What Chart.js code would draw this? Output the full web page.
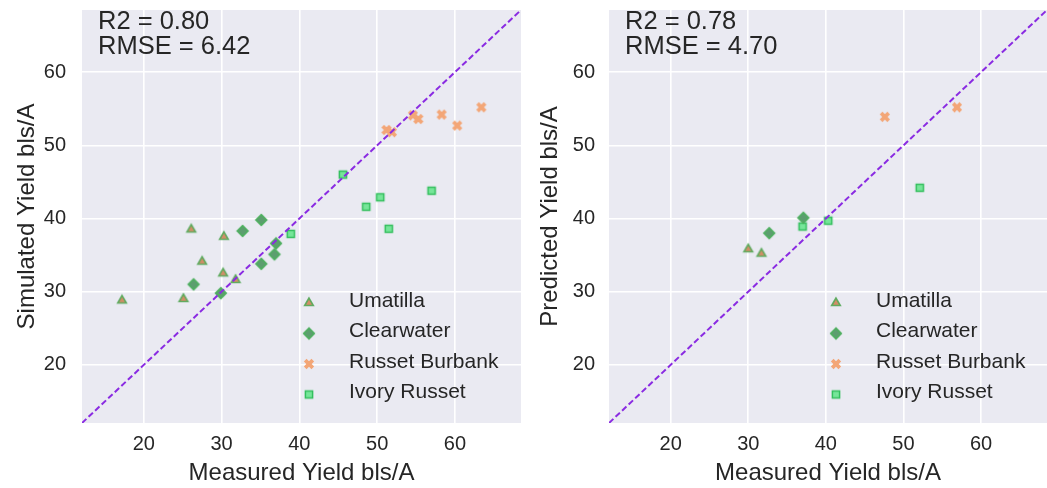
<!DOCTYPE html>
<html>
<head>
<meta charset="utf-8">
<script src="https://cdn.jsdelivr.net/npm/chart.js@4.4.1/dist/chart.umd.min.js"></script>
<style>
  html, body { margin: 0; padding: 0; background: #ffffff; }
  body { width: 1047px; height: 488px; position: relative; overflow: hidden; }
  .wrap { position: absolute; top: 0; height: 488px; }
  #w1 { left: 0; width: 530px; }
  #w2 { left: 536px; width: 511px; }
</style>
</head>
<body>
<div class="wrap" id="w1"><canvas id="c1"></canvas></div>
<div class="wrap" id="w2"><canvas id="c2"></canvas></div>
<script>
// ---------------- DATA ----------------
const seriesNames = ['Umatilla', 'Clearwater', 'Russet Burbank', 'Ivory Russet'];
const tickValues = [20, 30, 40, 50, 60];
const axisRange = [12.05, 68.5];

// Left panel: measured vs simulated
const simUmatillaX = [17.2, 25.1, 26.1, 27.5, 30.2, 30.3, 31.8];
const simUmatillaY = [28.8, 29.0, 38.5, 34.1, 32.5, 37.5, 31.6];
const simClearwaterX = [26.4, 29.9, 32.7, 35.1, 35.1, 36.8, 37.0];
const simClearwaterY = [31.0, 29.8, 38.3, 39.8, 33.8, 35.1, 36.6];
const simBurbankX = [51.2, 51.9, 54.6, 55.3, 58.3, 60.3, 63.4];
const simBurbankY = [52.1, 51.8, 54.1, 53.6, 54.2, 52.7, 55.2];
const simIvoryX = [38.9, 45.6, 48.6, 50.4, 51.5, 57.0];
const simIvoryY = [37.9, 46.0, 41.6, 42.9, 38.6, 43.8];

// Right panel: measured vs predicted
const predUmatillaX = [30.0, 31.7];
const predUmatillaY = [35.8, 35.2];
const predClearwaterX = [32.7, 37.1];
const predClearwaterY = [38.0, 40.1];
const predBurbankX = [47.6, 56.9];
const predBurbankY = [53.9, 55.2];
const predIvoryX = [37.0, 40.3, 52.1];
const predIvoryY = [38.9, 39.7, 44.2];

const statsLeft = ['R2 = 0.80', 'RMSE = 6.42'];
const statsRight = ['R2 = 0.78', 'RMSE = 4.70'];
const xTitle = 'Measured Yield bls/A';
const yTitleLeft = 'Simulated Yield bls/A';
const yTitleRight = 'Predicted Yield bls/A';

// ---------------- STYLE ----------------
const FONT = "'Liberation Sans', Arial, sans-serif";
const TEXT = '#262626';
const BG = '#eaeaf2';

function makeMarker(kind) {
  const c = document.createElement('canvas');
  c.width = 16; c.height = 16;
  const g = c.getContext('2d');
  const cx = 8, cy = 8;
  g.lineJoin = 'miter';
  if (kind === 'triangle') {
    const r = 5.0;
    g.beginPath();
    g.moveTo(cx, cy - r);
    g.lineTo(cx - r * 0.866, cy + r * 0.5);
    g.lineTo(cx + r * 0.866, cy + r * 0.5);
    g.closePath();
    g.fillStyle = 'rgba(210,136,96,0.95)';
    g.fill();
    g.lineWidth = 1.6;
    g.strokeStyle = 'rgba(84,168,88,0.9)';
    g.stroke();
  } else if (kind === 'diamond') {
    const r = 5.4;
    g.beginPath();
    g.moveTo(cx, cy - r); g.lineTo(cx + r, cy); g.lineTo(cx, cy + r); g.lineTo(cx - r, cy);
    g.closePath();
    g.fillStyle = '#5c9e6f';
    g.fill();
    g.lineWidth = 1.5;
    g.strokeStyle = '#4caf5d';
    g.stroke();
  } else if (kind === 'square') {
    const h = 3.6;
    g.beginPath();
    g.rect(cx - h, cy - h, 2 * h, 2 * h);
    g.fillStyle = '#76e699';
    g.fill();
    g.lineWidth = 1.5;
    g.strokeStyle = '#34bf5e';
    g.stroke();
  } else {
    const a = 3.8;
    g.strokeStyle = '#f3a677';
    g.lineWidth = 3.8;
    g.lineCap = 'butt';
    g.beginPath();
    g.moveTo(cx - a, cy - a); g.lineTo(cx + a, cy + a);
    g.moveTo(cx + a, cy - a); g.lineTo(cx - a, cy + a);
    g.stroke();
  }
  return c;
}
const markers = [makeMarker('triangle'), makeMarker('diamond'), makeMarker('x'), makeMarker('square')];

function pts(xs, ys) { return xs.map((x, i) => ({ x: x, y: ys[i] })); }

const bgPlugin = {
  id: 'bg',
  beforeDraw(chart) {
    const { ctx, chartArea: a } = chart;
    ctx.save();
    ctx.fillStyle = BG;
    ctx.fillRect(a.left, a.top, a.right - a.left, a.bottom - a.top);
    ctx.restore();
  }
};

const overlayPlugin = {
  id: 'overlay',
  afterDraw(chart, args, opts) {
    const { ctx, chartArea: a } = chart;
    ctx.save();
    ctx.fillStyle = TEXT;
    ctx.font = '25.5px ' + FONT;
    ctx.textAlign = 'left';
    ctx.textBaseline = 'alphabetic';
    opts.stats.forEach((s, i) => ctx.fillText(s, a.left + 16, a.top + 18.5 + i * 25));
    ctx.font = '21px ' + FONT;
    ctx.textBaseline = 'middle';
    seriesNames.forEach((name, i) => {
      const y = a.top + 291 + i * 30.5;
      const m = markers[i];
      ctx.drawImage(m, a.left + 227 - m.width / 2, y + 2 - m.height / 2);
      ctx.fillText(name, a.left + 267, y);
    });
    ctx.restore();
  }
};

function makeChart(id, sets, yTitle, stats, yWidth, yTickPad, yTitlePad, padRight) {
  const datasets = [{
    type: 'line',
    data: [{ x: axisRange[0], y: axisRange[0] }, { x: axisRange[1], y: axisRange[1] }],
    borderColor: '#8a2be2',
    borderWidth: 2,
    borderDash: [6, 3],
    pointRadius: 0,
    fill: false,
    order: 0
  }];
  sets.forEach((s, i) => {
    datasets.push({
      type: 'scatter',
      label: seriesNames[i],
      data: pts(s[0], s[1]),
      pointStyle: markers[i],
      pointRadius: 5,
      order: 1
    });
  });
  return new Chart(document.getElementById(id), {
    data: { datasets: datasets },
    options: {
      responsive: true,
      maintainAspectRatio: false,
      animation: false,
      events: [],
      layout: { autoPadding: false, padding: { top: 10, right: padRight, left: 0, bottom: 0 } },
      plugins: { legend: { display: false }, tooltip: { enabled: false }, overlay: { stats: stats } },
      scales: {
        x: {
          type: 'linear',
          min: axisRange[0], max: axisRange[1],
          afterBuildTicks(scale) { scale.ticks = tickValues.map(v => ({ value: v })); },
          afterFit(scale) { scale.height = 65; scale.paddingLeft = 0; scale.paddingRight = 0; },
          grid: { color: '#ffffff', lineWidth: 1.6, drawTicks: false },
          border: { display: false },
          ticks: { color: TEXT, font: { family: FONT, size: 20 }, padding: 9, maxRotation: 0 },
          title: { display: true, text: xTitle, color: TEXT, font: { family: FONT, size: 24 }, padding: { top: 0, bottom: 0 } }
        },
        y: {
          type: 'linear',
          min: axisRange[0], max: axisRange[1],
          afterBuildTicks(scale) { scale.ticks = tickValues.map(v => ({ value: v })); },
          afterFit(scale) { scale.width = yWidth; scale.paddingTop = 0; scale.paddingBottom = 0; },
          grid: { color: '#ffffff', lineWidth: 1.6, drawTicks: false },
          border: { display: false },
          ticks: { color: TEXT, font: { family: FONT, size: 20 }, padding: yTickPad },
          title: { display: true, text: yTitle, color: TEXT, font: { family: FONT, size: 24 }, padding: { top: yTitlePad, bottom: 0 } }
        }
      }
    },
    plugins: [bgPlugin, overlayPlugin]
  });
}

makeChart('c1', [
  [simUmatillaX, simUmatillaY],
  [simClearwaterX, simClearwaterY],
  [simBurbankX, simBurbankY],
  [simIvoryX, simIvoryY]
], yTitleLeft, statsLeft, 82, 16, 13, 9);

makeChart('c2', [
  [predUmatillaX, predUmatillaY],
  [predClearwaterX, predClearwaterY],
  [predBurbankX, predBurbankY],
  [predIvoryX, predIvoryY]
], yTitleRight, statsRight, 73, 14, 0, 0);
</script>
</body>
</html>
